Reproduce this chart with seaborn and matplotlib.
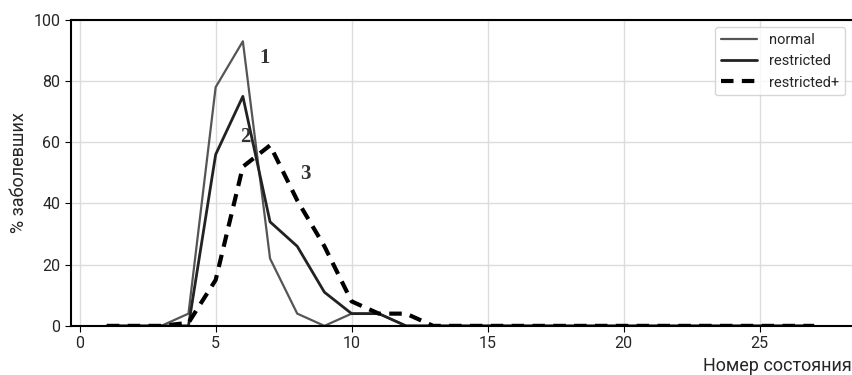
import matplotlib
matplotlib.use("Agg")
import matplotlib.pyplot as plt
import seaborn as sns
import numpy as np
import pandas as pd

states = list(range(1, 28))
normal = [0, 0, 0, 4, 78, 93, 22, 4, 0, 4, 4, 0] + [0] * 15
restricted = [0, 0, 0, 0, 56, 75, 34, 26, 11, 4, 4, 0] + [0] * 15
restricted_plus = [0, 0, 0, 1, 15, 52, 59, 41, 26, 8, 4, 4, 0] + [0] * 14

df = pd.DataFrame({
    "state": states * 3,
    "value": normal + restricted + restricted_plus,
    "group": ["normal"] * 27 + ["restricted"] * 27 + ["restricted+"] * 27,
})

sns.set_style("whitegrid")
plt.rcParams['font.family'] = ['Roboto', 'DejaVu Sans']

fig = plt.figure(figsize=(8.52, 3.75), dpi=100)
ax = fig.add_axes([0.083, 0.131, 0.917, 0.816])

styles = {
    "normal": dict(color="#555555", lw=1.6, ls="-"),
    "restricted": dict(color="#222222", lw=2.0, ls="-"),
    "restricted+": dict(color="#000000", lw=3.0, ls=(0, (3, 2))),
}
for name, sub in df.groupby("group", sort=False):
    st = styles[name]
    sns.lineplot(data=sub, x="state", y="value", ax=ax, color=st["color"],
                 lw=st["lw"], linestyle=st["ls"], label=name)

ax.set_xlim(-0.33, 28.4)
ax.set_ylim(0, 100)
ax.set_xticks([0, 5, 10, 15, 20, 25])
ax.set_yticks([0, 20, 40, 60, 80, 100])
ax.grid(True, color="#dcdcdc", lw=1)
for s in ["left", "bottom", "top"]:
    ax.spines[s].set_color("black")
    ax.spines[s].set_linewidth(1.5)
ax.spines["right"].set_visible(False)
ax.tick_params(axis="both", labelsize=11.5, length=4, color="black", left=True, bottom=True)

ax.set_ylabel("% заболевших", fontsize=13)
ax.set_xlabel("Номер состояния", fontsize=13, loc="right")

for txt, x, y in [("1", 6.6, 86), ("2", 5.9, 60), ("3", 8.1, 48)]:
    ax.text(x, y, txt, family="Liberation Serif", fontsize=15, fontweight="bold", color="#333333")

leg = ax.legend(loc="upper right", fontsize=10.5, frameon=True, handlelength=2.5)
leg.get_frame().set_edgecolor("#cccccc")

fig.savefig("out.png", dpi=100)
